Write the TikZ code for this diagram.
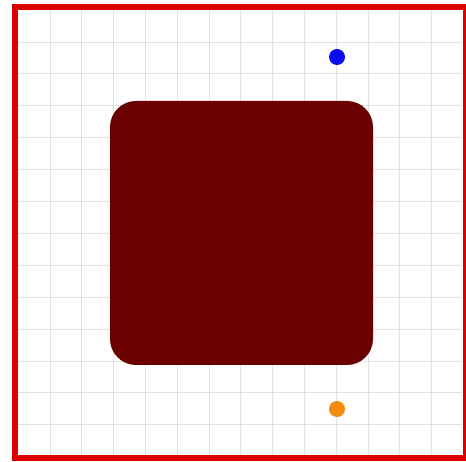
\documentclass[tikz,border=0pt]{standalone}
\definecolor{framered}{HTML}{DD0000}
\definecolor{blockred}{HTML}{6B0000}
\definecolor{gridgray}{HTML}{E2E2E2}
\definecolor{dotblue}{HTML}{0A0AF0}
\definecolor{dotorange}{HTML}{F28C0F}
\begin{document}
\begin{tikzpicture}[
    x=1pt, y=-1pt,
    gridline/.style={draw=gridgray, line width=0.9pt},
    block/.style={rectangle, rounded corners=26pt, fill=blockred, minimum width=263pt, minimum height=264pt, inner sep=0pt},
    marker/.style={circle, minimum size=16pt, inner sep=0pt},
    thick
  ]
  \useasboundingbox (0,0) rectangle (466,462);
  \fill[white] (0,0) rectangle (466,462);
  % grid
  \foreach \gx in {50,81.8,...,440} \draw[gridline] (\gx,10) -- (\gx,455);
  \foreach \gy in {42,73.9,...,440} \draw[gridline] (18,\gy) -- (462,\gy);
  % frame
  \draw[framered, line width=6pt] (15,7) rectangle (466,457.5);
  \node[block] (body) at (241.5,233) {};
  \node[marker, fill=dotblue] (top) at (337,57) {};
  \node[marker, fill=dotorange] (bottom) at (337,409) {};
\end{tikzpicture}
\end{document}
